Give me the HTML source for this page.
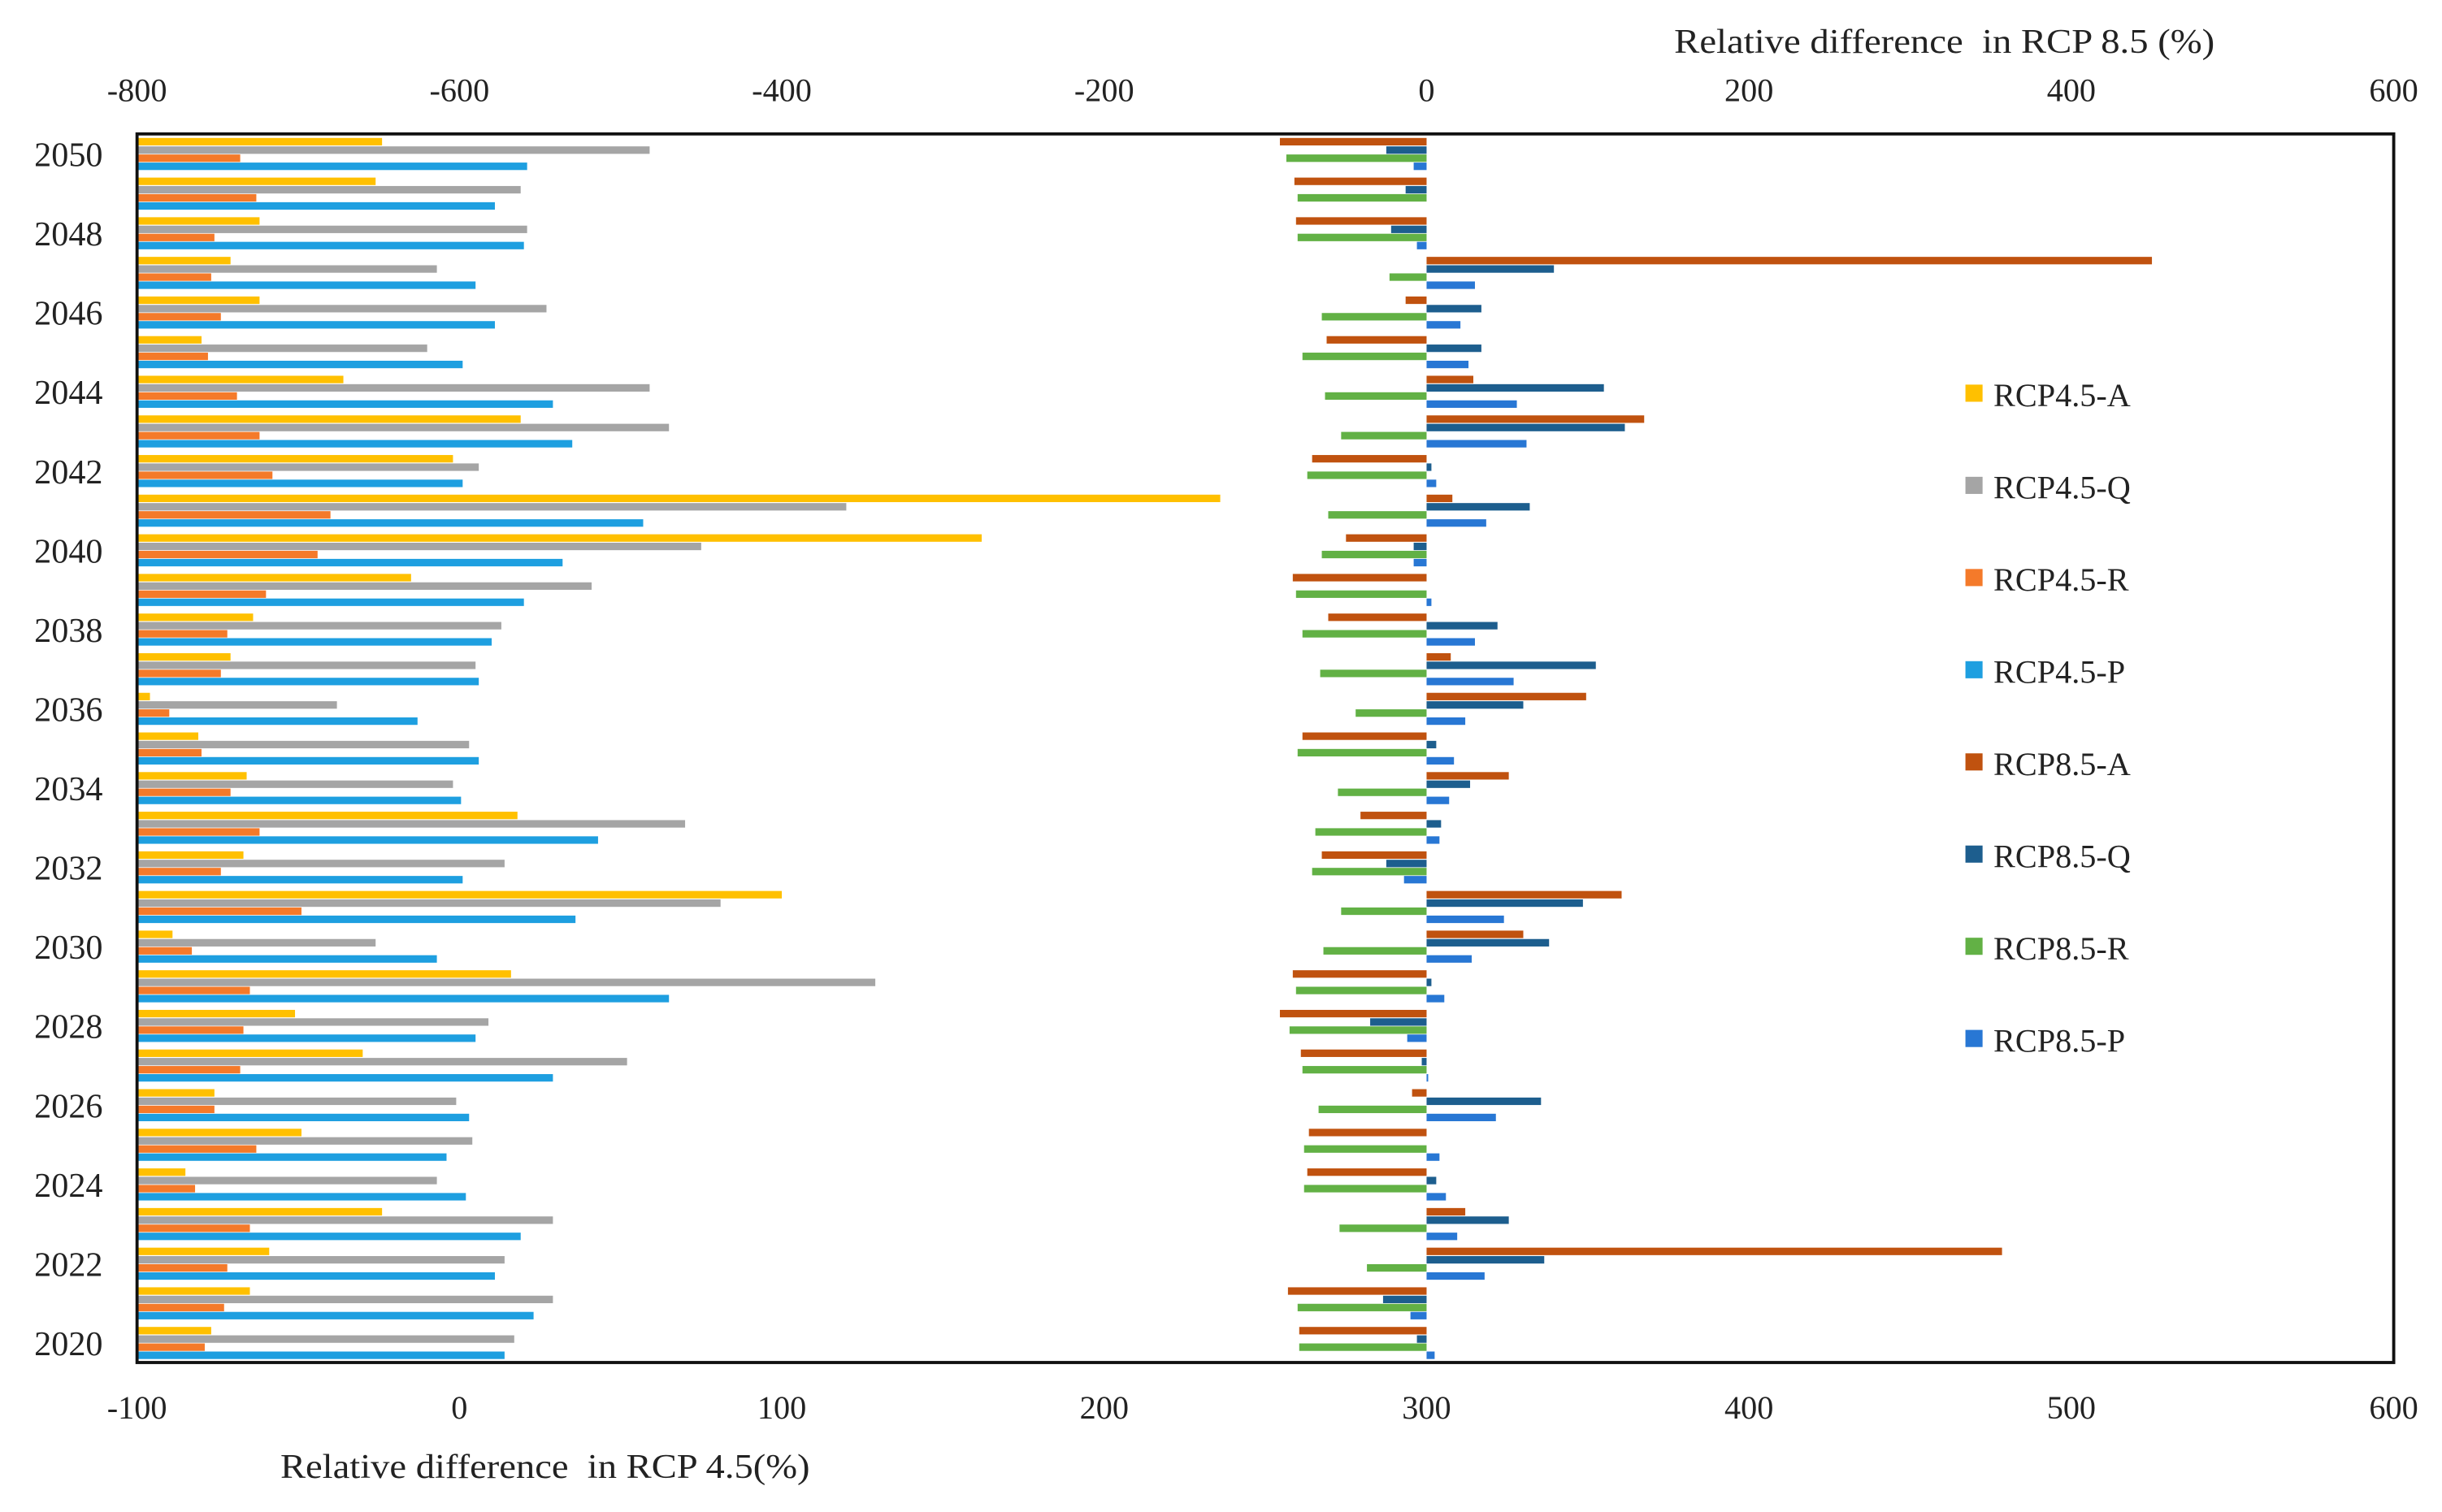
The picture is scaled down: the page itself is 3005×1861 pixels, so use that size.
<!DOCTYPE html>
<html><head><meta charset="utf-8"><style>
html,body{margin:0;padding:0;background:#fff;}
svg{display:block;}
text{font-family:"Liberation Serif",serif;fill:#222;}
</style></head><body>
<svg id="chart" width="3005" height="1861" viewBox="0 0 1568 971" preserveAspectRatio="none" xmlns="http://www.w3.org/2000/svg">
<rect x="0" y="0" width="1568" height="971" fill="#fff"/>
<g id="bars"></g>
<rect x="88" y="86" width="1449" height="789" fill="none" stroke="#111" stroke-width="2"/>
<g id="axes"></g>
<text x="1075" y="34" font-size="22" textLength="347" lengthAdjust="spacingAndGlyphs" xml:space="preserve">Relative difference  in RCP 8.5 (%)</text>
<text x="180" y="949" font-size="22" textLength="340" lengthAdjust="spacingAndGlyphs" xml:space="preserve">Relative difference  in RCP 4.5(%)</text>
<g id="legend"></g>
</svg>
<script>
const years = [2050,2049,2048,2047,2046,2045,2044,2043,2042,2041,2040,2039,2038,2037,2036,2035,2034,2033,2032,2031,2030,2029,2028,2027,2026,2025,2024,2023,2022,2021,2020];
const rcp45A = [-24,-26,-62,-71,-62,-80,-36,19,-2,236,162,-15,-64,-71,-96,-81,-66,18,-67,100,-89,16,-51,-30,-76,-49,-85,-24,-59,-65,-77];
const rcp45Q = [59,19,21,-7,27,-10,59,65,6,120,75,41,13,5,-38,3,-2,70,14,81,-26,129,9,52,-1,4,-7,29,14,29,17];
const rcp45R = [-68,-63,-76,-77,-74,-78,-69,-62,-58,-40,-44,-60,-72,-74,-90,-80,-71,-62,-74,-49,-83,-65,-67,-68,-76,-63,-82,-65,-72,-73,-79];
const rcp45P = [21,11,20,5,11,1,29,35,1,57,32,20,10,6,-13,6,0.5,43,1,36,-7,65,5,29,3,-4,2,19,11,23,14];
const rcp85A = [-91,-82,-81,450,-13,-62,29,135,-71,16,-50,-83,-61,15,99,-77,51,-41,-65,121,60,-83,-91,-78,-9,-73,-74,24,357,-86,-79];
const rcp85Q = [-25,-13,-22,79,34,34,110,123,3,64,-8,0,44,105,60,6,27,9,-25,97,76,3,-35,-3,71,0,6,51,73,-27,-6];
const rcp85R = [-87,-80,-80,-23,-65,-77,-63,-53,-74,-61,-65,-81,-77,-66,-44,-80,-55,-69,-71,-53,-64,-81,-85,-77,-67,-76,-76,-54,-37,-80,-79];
const rcp85P = [-8,0,-6,30,21,26,56,62,6,37,-8,3,30,54,24,17,14,8,-14,48,28,11,-12,1,43,8,12,19,36,-10,5];
const topTicks = [-800,-600,-400,-200,0,200,400,600];
const bottomTicks = [-100,0,100,200,300,400,500,600];
const seriesNames = ["RCP4.5-A","RCP4.5-Q","RCP4.5-R","RCP4.5-P","RCP8.5-A","RCP8.5-Q","RCP8.5-R","RCP8.5-P"];

const NS="http://www.w3.org/2000/svg";
const L=88,R=1537,T=86,B=875;
const xTop=v=>L+(v+800)/1400*(R-L);
const xBot=v=>L+(v+100)/700*(R-L);
const gH=(B-T)/years.length;
const offs=[2.6,8.0,13.2,18.4], bh=4.8;
const cols45=["#FFC000","#A5A5A5","#F47A2A","#1E9FE0"];
const cols85=["#C0520F","#1D5E8E","#62B145","#2877D4"];
const barsG=document.getElementById('bars');
function mk(tag,attrs,parent){const e=document.createElementNS(NS,tag);for(const k in attrs)e.setAttribute(k,attrs[k]);parent.appendChild(e);return e;}
const s45=[rcp45A,rcp45Q,rcp45R,rcp45P], s85=[rcp85A,rcp85Q,rcp85R,rcp85P];
years.forEach((yr,i)=>{
  const gy=T+i*gH;
  s45.forEach((s,k)=>{
    const x0=xBot(-100), x1=xBot(s[i]);
    const r=mk('rect',{x:Math.min(x0,x1),y:gy+offs[k],width:Math.abs(x1-x0),height:bh,fill:cols45[k]},barsG);
    
    
  });
  s85.forEach((s,k)=>{
    const x0=xTop(0), x1=xTop(s[i]);
    const r=mk('rect',{x:Math.min(x0,x1),y:gy+offs[k],width:Math.abs(x1-x0),height:bh,fill:cols85[k]},barsG);
    
    
  });
});
const axes=document.getElementById('axes');
topTicks.forEach(v=>{
  const t=mk('text',{x:xTop(v),y:65,'font-size':21,'text-anchor':'middle'},axes);
  t.textContent=v;
  
  
});
bottomTicks.forEach(v=>{
  const t=mk('text',{x:xBot(v),y:911,'font-size':21,'text-anchor':'middle'},axes);
  t.textContent=v;
  
  
});
years.forEach((yr,i)=>{
  if(yr%2!==0) return;
  const t=mk('text',{x:66,y:T+(i+0.5)*gH+8,'font-size':22,'text-anchor':'end'},axes);
  t.textContent=yr;
  
  
});
const leg=document.getElementById('legend');
const allCols=cols45.concat(cols85);
seriesNames.forEach((n,k)=>{
  const y=254+k*59.2;
  const r=mk('rect',{x:1262,y:y-7,width:11,height:11,fill:allCols[k]},leg);
  
  
  const t=mk('text',{x:1280,y:y+7,'font-size':21},leg);
  t.textContent=n;
  
  
});
</script>
</body></html>
